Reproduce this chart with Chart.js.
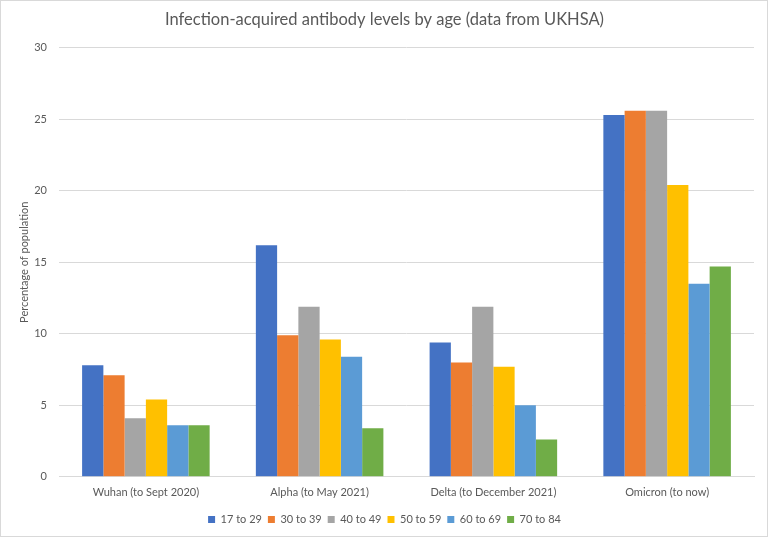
<!DOCTYPE html>
<html><head><meta charset="utf-8">
<script src="https://cdn.jsdelivr.net/npm/chart.js@4/dist/chart.umd.min.js"></script>
<style>
html,body{margin:0;padding:0;background:#fff;}
#wrap{position:absolute;left:0;top:0;width:766px;height:535px;border:1px solid #d9d9d9;}
</style></head><body>
<div id="wrap"><canvas id="c" width="766" height="535"></canvas></div>
<script>
const categories = ["Wuhan (to Sept 2020)", "Alpha (to May 2021)", "Delta (to December 2021)", "Omicron (to now)"];
const seriesNames = ["17 to 29", "30 to 39", "40 to 49", "50 to 59", "60 to 69", "70 to 84"];
const age17to29 = [7.8, 16.2, 9.4, 25.3];
const age30to39 = [7.1, 9.9, 8.0, 25.6];
const age40to49 = [4.1, 11.9, 11.9, 25.6];
const age50to59 = [5.4, 9.6, 7.7, 20.4];
const age60to69 = [3.6, 8.4, 5.0, 13.5];
const age70to84 = [3.6, 3.4, 2.6, 14.7];
const colors = ["#4472C4", "#ED7D31", "#A5A5A5", "#FFC000", "#5B9BD5", "#70AD47"];
const seriesValues = [age17to29, age30to39, age40to49, age50to59, age60to69, age70to84];

const font = "Lato, 'Open Sans', sans-serif";
new Chart(document.getElementById('c'), {
  type: 'bar',
  data: {
    labels: categories,
    datasets: seriesNames.map((n, i) => ({
      label: n, data: seriesValues[i], backgroundColor: colors[i],
      borderWidth: 0, categoryPercentage: 0.734, barPercentage: 1.0
    }))
  },
  options: {
    responsive: false, animation: false,
    layout: { padding: { left: 14, right: 13, top: 6, bottom: 1 } },
    plugins: {
      title: { display: true, text: "Infection-acquired antibody levels by age (data from UKHSA)",
        color: '#595959', font: { family: font, size: 16.5, weight: 'normal' }, padding: { top: 3, bottom: 18 } },
      legend: { position: 'bottom', labels: { color: '#595959', font: { family: font, size: 11 },
        boxWidth: 7, boxHeight: 7, padding: 6 } },
      tooltip: { enabled: false }
    },
    scales: {
      x: { grid: { display: false, drawTicks: false }, border: { color: '#d9d9d9' },
        ticks: { color: '#595959', font: { family: font, size: 11 }, padding: 9 } },
      y: { min: 0, max: 30, grid: { color: '#d9d9d9', drawTicks: false }, border: { display: false },
        afterFit: (axis) => { axis.width = 44; },
        ticks: { stepSize: 5, color: '#595959', font: { family: font, size: 11 }, padding: 12 },
        title: { display: true, text: 'Percentage of population', color: '#595959', font: { family: font, size: 11 }, padding: { top: 3, bottom: 3 } } }
    }
  }
});
</script></body></html>
